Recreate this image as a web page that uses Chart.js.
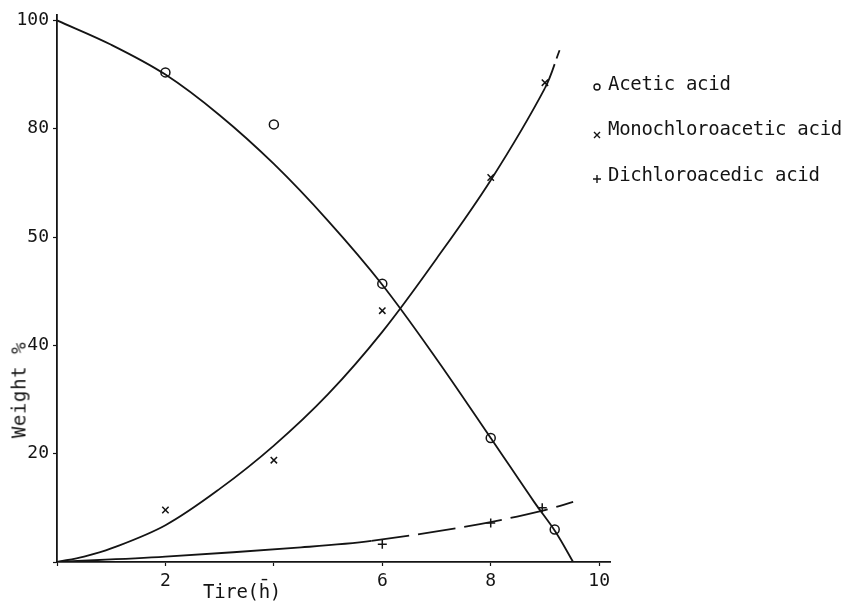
<!DOCTYPE html>
<html>
<head>
<meta charset="utf-8">
<script src="https://cdn.jsdelivr.net/npm/chart.js@4.4.1/dist/chart.umd.min.js"></script>
<style>
  html, body { margin: 0; padding: 0; background: #fff; }
  #wrap { position: relative; width: 847px; height: 604px; }
  #chart { position: absolute; left: 0; top: 0; }
  .txt {
    position: absolute;
    font-family: "DejaVu Sans Mono", "Liberation Mono", monospace;
    font-size: 19px;
    line-height: 19px;
    letter-spacing: -0.3px;
    color: #141414;
    white-space: nowrap;
  }
  .mark { position: absolute; }
</style>
</head>
<body>
<div id="wrap">
  <canvas id="chart" width="847" height="604"></canvas>
</div>
<script>
// series names as printed in the legend
const seriesNames = ['Acetic acid', 'Monochloroacetic acid', 'Dichloroacedic acid'];

// measured points (markers)
const aceticX = [2, 4, 6, 8, 9.18];
const aceticY = [90.4, 80.8, 51.4, 22.9, 6.0];
const monoX = [2, 4, 6, 8, 9];
const monoY = [9.6, 18.8, 46.4, 71, 88.5];
const dichloroX = [6, 8, 8.95];
const dichloroY = [3.3, 7.2, 10];

// hand-drawn fitted curves
const aceticCurveX = [0, 1, 2, 3, 4, 5, 6, 7, 8, 8.8, 9.2, 9.52];
const aceticCurveY = [100, 95.5, 90, 82.5, 73.5, 63, 51.2, 37.5, 22.9, 11.1, 5.5, 0];
const monoCurveX = [0, 0.5, 1, 2, 3, 4, 5, 6, 7, 8, 9, 9.27];
const monoCurveY = [0, 1, 2.5, 6.8, 13.5, 21.5, 31, 42.5, 56, 70.5, 87.5, 94.5];
const dichloroCurveX = [0, 2, 4.5, 5.8, 7.8, 9, 9.52];
const dichloroCurveY = [0, 1, 2.7, 3.9, 7, 9.6, 11.1];

// axis ticks
const xTickValues = [0, 2, 4, 6, 8, 10];
const xTickLabels = ['', '2', '', '6', '8', '10'];
const yTickValues = [0, 20, 40, 60, 80, 100];
const yTickLabels = ['', '20', '40', '50', '80', '100'];

// axis titles
const xTitle = 'Tire(h\u0304)';
const yTitle = 'Weight %';

const INK = '#141414';
const pts = (xs, ys) => xs.map((x, i) => ({ x, y: ys[i] }));

function curve(xs, ys, dashFrom, dash) {
  return {
    data: pts(xs, ys),
    showLine: true,
    borderColor: INK,
    borderWidth: 1.8,
    pointRadius: 0,
    tension: 0.35,
    segment: {
      borderDash: (c) => (c.p0.parsed.x >= dashFrom ? dash : undefined)
    }
  };
}

function markers(xs, ys, style, radius) {
  return {
    data: pts(xs, ys),
    showLine: false,
    pointStyle: style,
    pointRadius: radius,
    pointBorderWidth: 1.5,
    pointBorderColor: INK,
    pointBackgroundColor: '#fff'
  };
}

const tickFont = { family: '"DejaVu Sans Mono", "Liberation Mono", monospace', size: 18 };

new Chart(document.getElementById('chart'), {
  type: 'scatter',
  data: {
    datasets: [
      curve(aceticCurveX, aceticCurveY, 99, undefined),
      curve(monoCurveX, monoCurveY, 8.5, [26, 6]),
      curve(dichloroCurveX, dichloroCurveY, 5, [38, 9]),
      markers(aceticX, aceticY, 'circle', 4.5),
      markers(monoX, monoY, 'crossRot', 4.5),
      markers(dichloroX, dichloroY, 'cross', 4.5)
    ]
  },
  options: {
    responsive: false,
    animation: false,
    layout: { padding: { left: 0, top: 15, right: 237, bottom: 0 } },
    plugins: {
      legend: { display: false },
      tooltip: { enabled: false }
    },
    scales: {
      x: {
        type: 'linear',
        min: 0,
        max: 10.2,
        afterBuildTicks: (s) => { s.ticks = xTickValues.map((v) => ({ value: v })); },
        afterFit: (s) => { s.height = 42; },
        grid: { drawOnChartArea: false, drawTicks: true, tickLength: 4, tickColor: INK, tickWidth: 1.2 },
        border: { display: true, color: INK, width: 1.8 },
        ticks: {
          color: INK,
          font: tickFont,
          padding: 5,
          maxRotation: 0,
          autoSkip: false,
          callback: (v, i) => xTickLabels[i]
        }
      },
      y: {
        type: 'linear',
        min: 0,
        max: 101,
        afterBuildTicks: (s) => { s.ticks = yTickValues.map((v) => ({ value: v })); },
        afterFit: (s) => { s.width = 57; },
        grid: { drawOnChartArea: false, drawTicks: true, tickLength: 4, tickColor: INK, tickWidth: 1.2 },
        border: { display: true, color: INK, width: 1.8 },
        ticks: {
          color: INK,
          font: tickFont,
          padding: 4,
          autoSkip: false,
          callback: (v, i) => yTickLabels[i]
        }
      }
    }
  }
});

// legend and axis titles as html text
const wrap = document.getElementById('wrap');
const legendMarks = [
  '<circle cx="6" cy="6" r="3" fill="none" stroke="' + INK + '" stroke-width="1.4"/>',
  '<path d="M3 3 L9 9 M9 3 L3 9" stroke="' + INK + '" stroke-width="1.4"/>',
  '<path d="M6 2 L6 10 M2 6 L10 6" stroke="' + INK + '" stroke-width="1.4"/>'
];
const rowTop = [74, 119, 165];
const markTop = [79, 127, 171];
seriesNames.forEach((name, i) => {
  const m = document.createElement('div');
  m.className = 'mark';
  m.style.left = '591px';
  m.style.top = markTop[i] + 'px';
  m.innerHTML = '<svg width="12" height="12">' + legendMarks[i] + '</svg>';
  wrap.appendChild(m);
  const t = document.createElement('div');
  t.className = 'txt';
  t.style.left = '608px';
  t.style.top = rowTop[i] + 'px';
  t.textContent = name;
  wrap.appendChild(t);
});

const xt = document.createElement('div');
xt.className = 'txt';
xt.style.left = '203px';
xt.style.top = '582px';
xt.textContent = xTitle;
wrap.appendChild(xt);

const yt = document.createElement('div');
yt.className = 'txt';
yt.style.left = '19px';
yt.style.top = '390px';
yt.style.letterSpacing = '0.6px';
yt.style.transform = 'translate(-50%, -50%) rotate(-90deg)';
yt.textContent = yTitle;
wrap.appendChild(yt);
</script>
</body>
</html>
